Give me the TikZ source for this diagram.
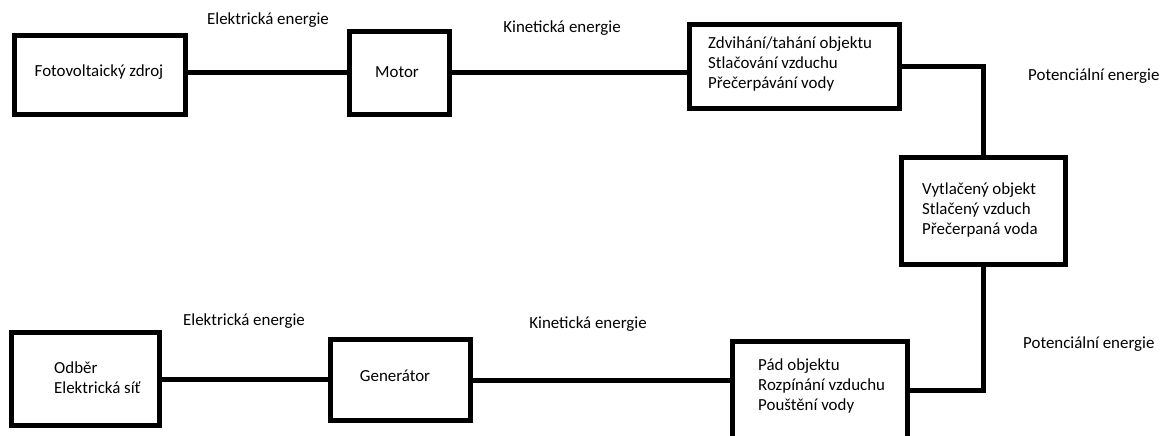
\documentclass[tikz,border=0pt]{standalone}
\usepackage{fontspec}
\setmainfont{Carlito}
\begin{document}
\begin{tikzpicture}[x=1pt,y=-1pt,
  box/.style={draw=black,line width=5pt,rectangle,inner sep=0pt},
  conn/.style={draw=black,line width=5pt},
  txt/.style={inner sep=0pt,font=\fontsize{16.9}{20.2}\selectfont,align=left},
  lbl/.style={inner sep=0pt,font=\fontsize{16.9}{20.2}\selectfont}]
\useasboundingbox (0,0) rectangle (1165,436);
\fill[white] (0,0) rectangle (1165,436);
% boxes
\node[box,minimum width=171pt,minimum height=79pt] (foto) at (100,75) {};
\node[box,minimum width=100pt,minimum height=83pt] (motor) at (399.5,73) {};
\node[box,minimum width=210pt,minimum height=84pt] (zdv) at (794.5,66.5) {};
\node[box,minimum width=164pt,minimum height=107pt] (vyt) at (983.5,211) {};
\node[box,minimum width=148pt,minimum height=93pt] (odb) at (85.5,379) {};
\node[box,minimum width=140pt,minimum height=81pt] (gen) at (400.5,380) {};
\node[box,minimum width=175pt,minimum height=97pt] (pad) at (820,390) {};
% texts
\node[txt] (tfoto) at (99,72) {Fotovoltaický zdroj};
\node[txt] (tmotor) at (397,72) {Motor};
\node[txt,anchor=west] (tzdv) at (708,64) {Zdvihání/tahání objektu\\Stlačování vzduchu\\Přečerpávání vody};
\node[txt,anchor=west] (tvyt) at (922,210) {Vytlačený objekt\\Stlačený vzduch\\Přečerpaná voda};
\node[txt,anchor=west] (todb) at (54,378) {Odběr\\Elektrická síť};
\node[txt] (tgen) at (395,376) {Generátor};
\node[txt,anchor=west] (tpad) at (758,386) {Pád objektu\\Rozpínání vzduchu\\Pouštění vody};
% labels
\node[lbl] (l1) at (268,20) {Elektrická energie};
\node[lbl] (l2) at (562,28) {Kinetická energie};
\node[lbl,anchor=west] (l3) at (1028,76) {Potenciální energie};
\node[lbl] (l4) at (244,321) {Elektrická energie};
\node[lbl] (l5) at (588,324) {Kinetická energie};
\node[lbl,anchor=west] (l6) at (1023,344) {Potenciální energie};
% connectors
\draw[conn] (foto.east |- motor.west) -- (motor.west);
\draw[conn] (motor.east) -- (motor.east -| zdv.west);
\draw[conn] (zdv.east) -| (vyt.north);
\draw[conn] (vyt.south) |- (pad.east);
\draw[conn] (gen.east) -- (gen.east -| pad.west);
\draw[conn] (odb.east) -- (odb.east -| gen.west);
\end{tikzpicture}
\end{document}
